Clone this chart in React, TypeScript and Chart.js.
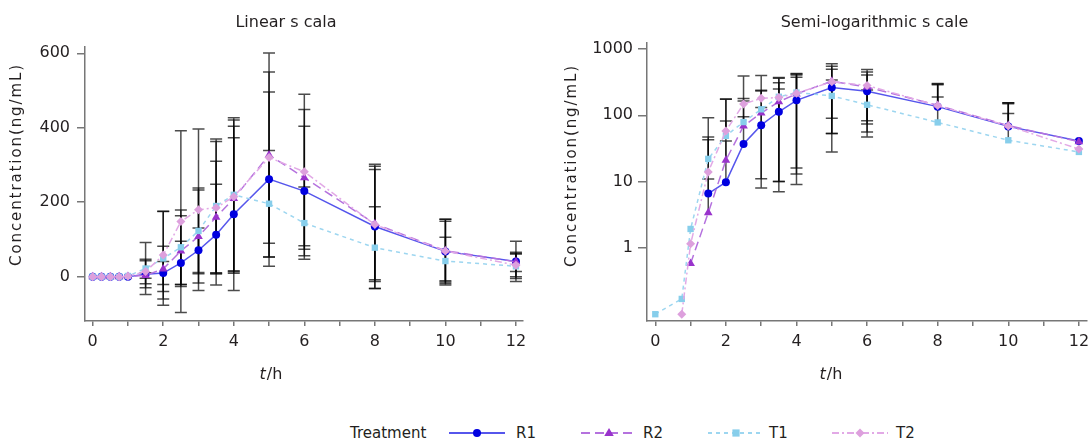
import React, { useEffect, useRef } from 'react';
import { Chart, registerables } from 'chart.js';

Chart.register(...registerables);

// ---------- data ----------
const timePoints = [0, 0.25, 0.5, 0.75, 1, 1.5, 2, 2.5, 3, 3.5, 4, 5, 6, 8, 10, 12];

const r1Mean = [0, 0, 0, 0, 0, 6.6, 9.8, 37, 71, 113, 168, 262, 230, 135, 68, 41];
const r1Sd = [0, 0, 0, 0, 0, 36, 31, 58, 60, 135, 205, 234, 174, 167, 86, 54];

const r2Mean = [0, 0, 0, 0, 0.58, 3.4, 21, 69, 108, 160, 210, 327, 266, 142, 70, 40];
const r2Sd = [0, 0, 0, 0, 0, 7.5, 61, 95, 125, 150, 194, 274, 183, 155, 84, 26];

const t1Mean = [0.1, 0, 0, 0.17, 1.93, 22, 49, 79, 123, 190, 220, 196, 144, 78, 42, 28];
const t1Sd = [0, 0, 0, 0, 0, 70, 126, 100, 115, 180, 207, 143, 97, 110, 64, 33];

const t2Mean = [0, 0, 0, 0.1, 1.15, 14, 58, 148, 180, 185, 215, 320, 282, 140, 69, 31];
const t2Sd = [0, 0, 0, 0, 0, 33, 118, 244, 217, 178, 206, 230, 208, 148, 80, 31];

const seriesNames = ['R1', 'R2', 'T1', 'T2'];
const seriesMeans = [r1Mean, r2Mean, t1Mean, t2Mean];
const seriesSds = [r1Sd, r2Sd, t1Sd, t2Sd];

const xTickValues = [0, 1, 2, 3, 4, 5, 6, 7, 8, 9, 10, 11, 12];
const xTickLabels = ['0', '', '2', '', '4', '', '6', '', '8', '', '10', '', '12'];
const linearYTicks = [0, 200, 400, 600];
const logYTicks = [1, 10, 100, 1000];

const leftTitle = 'Linear s cala';
const rightTitle = 'Semi-logarithmic s cale';
const yAxisTitle = 'Concentration(ng/mL)';
const legendTitle = 'Treatment';

// ---------- styles ----------
const FONT = '"DejaVu Sans", Verdana, sans-serif';
const seriesStyles = [
  { line: '#5656ec', point: '#0000e0', dash: [] as number[], shape: 'circle', radius: 4 },
  { line: '#b572de', point: '#9933cc', dash: [9, 5], shape: 'triangle', radius: 5 },
  { line: '#9dd6f0', point: '#87ceeb', dash: [4, 4], shape: 'rect', radius: 4.5 },
  { line: '#e2a9e6', point: '#dda0dd', dash: [7, 3, 2, 3], shape: 'rectRot', radius: 4.5 },
];

function makeErrorBarPlugin(maxTime: number) {
  return {
    id: 'errorBars',
    beforeDatasetsDraw(chart: any) {
      const { ctx, scales, chartArea } = chart;
      const x = scales.x;
      const y = scales.y;
      const isLog = y.type === 'logarithmic';
      ctx.save();
      ctx.beginPath();
      ctx.rect(chartArea.left, chartArea.top - 20, chartArea.width, chartArea.height + 20);
      ctx.clip();
      ctx.strokeStyle = 'rgba(0,0,0,0.7)';
      ctx.lineWidth = 1.5;
      const cap = 6;
      seriesMeans.forEach((means, si) => {
        const sds = seriesSds[si];
        timePoints.forEach((t, j) => {
          if (t > maxTime) return;
          const m = means[j];
          const s = sds[j];
          if (!s) return;
          const hi = m + s;
          const lo = m - s;
          const px = x.getPixelForValue(t);
          let yTop: number;
          let yBot: number;
          let lowCap = true;
          if (isLog) {
            if (m <= 0) return;
            yTop = y.getPixelForValue(hi);
            if (lo > 0) {
              yBot = y.getPixelForValue(lo);
            } else {
              yBot = y.getPixelForValue(m);
              lowCap = false;
            }
          } else {
            yTop = y.getPixelForValue(hi);
            yBot = y.getPixelForValue(lo);
          }
          ctx.beginPath();
          ctx.moveTo(px, yTop);
          ctx.lineTo(px, yBot);
          ctx.moveTo(px - cap, yTop);
          ctx.lineTo(px + cap, yTop);
          if (lowCap) {
            ctx.moveTo(px - cap, yBot);
            ctx.lineTo(px + cap, yBot);
          }
          ctx.stroke();
        });
      });
      ctx.restore();
    },
  };
}

type TextCfg = {
  title: string;
  titleX: number;
  titleY: number;
  yTitleX: number;
  yTitleY: number;
  xTitleX: number;
  xTitleY: number;
};

function makeTextPlugin(cfg: TextCfg) {
  return {
    id: 'texts',
    afterDraw(chart: any) {
      const ctx = chart.ctx as CanvasRenderingContext2D;
      ctx.save();
      ctx.fillStyle = '#231f20';
      ctx.font = `16px ${FONT}`;
      ctx.textAlign = 'center';
      ctx.textBaseline = 'alphabetic';
      ctx.fillText(cfg.title, cfg.titleX, cfg.titleY);

      ctx.save();
      ctx.translate(cfg.yTitleX, cfg.yTitleY);
      ctx.rotate(-Math.PI / 2);
      ctx.font = `15px ${FONT}`;
      (ctx as any).letterSpacing = '1.9px';
      ctx.textBaseline = 'middle';
      ctx.textAlign = 'center';
      ctx.fillText(yAxisTitle, 0, 0);
      ctx.restore();

      ctx.textAlign = 'left';
      ctx.font = `italic 16px ${FONT}`;
      const wT = ctx.measureText('t').width;
      ctx.font = `16px ${FONT}`;
      const wH = ctx.measureText('/h').width;
      const start = cfg.xTitleX - (wT + wH) / 2;
      ctx.font = `italic 16px ${FONT}`;
      ctx.fillText('t', start, cfg.xTitleY);
      ctx.font = `16px ${FONT}`;
      ctx.fillText('/h', start + wT + 1, cfg.xTitleY);
      ctx.restore();
    },
  };
}

function buildDatasets(isLog: boolean) {
  return seriesNames.map((name, si) => {
    const st = seriesStyles[si];
    return {
      label: name,
      order: seriesNames.length - 1 - si,
      data: timePoints.map((t, j) => {
        const v = seriesMeans[si][j];
        return { x: t, y: isLog && v <= 0 ? null : v };
      }),
      borderColor: st.line,
      backgroundColor: st.point,
      borderWidth: 1.5,
      borderDash: st.dash,
      pointStyle: st.shape,
      pointRadius: st.radius,
      pointBackgroundColor: st.point,
      pointBorderColor: st.point,
      pointBorderWidth: 0,
      spanGaps: true,
      tension: 0,
      clip: false as any,
    };
  });
}

function makeConfig(isLog: boolean): any {
  const axisColor = '#777';
  const tickFont = { family: FONT, size: 16 };
  const xScale = {
    type: 'linear',
    min: isLog ? -0.235 : -0.218,
    max: isLog ? 12.23 : 12.2,
    afterBuildTicks: (s: any) => {
      s.ticks = xTickValues.map((v) => ({ value: v }));
    },
    afterFit: (s: any) => {
      s.height = 74;
      s.paddingLeft = 0;
      s.paddingRight = 0;
    },
    ticks: {
      autoSkip: false,
      maxRotation: 0,
      padding: 6,
      color: '#231f20',
      font: tickFont,
      callback: (v: number) => {
        const i = xTickValues.indexOf(v);
        return i >= 0 ? xTickLabels[i] : '';
      },
    },
    grid: { drawOnChartArea: false, drawTicks: true, tickLength: 5, color: axisColor, lineWidth: 1.5 },
    border: { display: true, color: axisColor, width: 1.5 },
  };
  const yScale = isLog
    ? {
        type: 'logarithmic',
        min: 0.079,
        max: 1230,
        afterBuildTicks: (s: any) => {
          s.ticks = logYTicks.map((v) => ({ value: v }));
        },
        afterFit: (s: any) => {
          s.width = 102;
          s.paddingTop = 0;
          s.paddingBottom = 0;
        },
        ticks: {
          autoSkip: false,
          padding: 5,
          color: '#231f20',
          font: tickFont,
          callback: (v: number) => String(v),
        },
        grid: { drawOnChartArea: false, drawTicks: true, tickLength: 9, color: axisColor, lineWidth: 1.5 },
        border: { display: true, color: axisColor, width: 1.5 },
      }
    : {
        type: 'linear',
        min: -119,
        max: 617,
        afterBuildTicks: (s: any) => {
          s.ticks = linearYTicks.map((v) => ({ value: v }));
        },
        afterFit: (s: any) => {
          s.width = 85;
          s.paddingTop = 0;
          s.paddingBottom = 0;
        },
        ticks: {
          autoSkip: false,
          padding: 7,
          color: '#231f20',
          font: tickFont,
          callback: (v: number) => String(v),
        },
        grid: { drawOnChartArea: false, drawTicks: true, tickLength: 8, color: axisColor, lineWidth: 1.5 },
        border: { display: true, color: axisColor, width: 1.5 },
      };

  const textCfg: TextCfg = isLog
    ? { title: rightTitle, titleX: 329.5, titleY: 27, yTitleX: 27, yTitleY: 165.5, xTitleX: 285.5, xTitleY: 379 }
    : { title: leftTitle, titleX: 286, titleY: 27, yTitleX: 17, yTitleY: 164.5, xTitleX: 270.5, xTitleY: 379 };

  return {
    type: 'line',
    data: { datasets: buildDatasets(isLog) },
    options: {
      responsive: false,
      animation: false,
      devicePixelRatio: 1,
      layout: {
        autoPadding: false,
        padding: isLog ? { top: 43, right: 2, left: 0, bottom: 0 } : { top: 47, right: 22, left: 0, bottom: 0 },
      },
      plugins: {
        legend: { display: false },
        title: { display: false },
        tooltip: { enabled: false },
      },
      scales: { x: xScale, y: yScale },
    },
    plugins: [makeErrorBarPlugin(isLog ? 10 : 12), makeTextPlugin(textCfg)],
  };
}

function ChartCanvas({ isLog, left, width }: { isLog: boolean; left: number; width: number }) {
  const ref = useRef<HTMLCanvasElement | null>(null);
  useEffect(() => {
    if (!ref.current) return;
    const chart = new Chart(ref.current, makeConfig(isLog));
    return () => chart.destroy();
  }, [isLog]);
  return (
    <canvas
      ref={ref}
      width={width}
      height={395}
      style={{ position: 'absolute', left, top: 0, width, height: 395 }}
    />
  );
}

function LegendSymbol({ si, left, width }: { si: number; left: number; width: number }) {
  const st = seriesStyles[si];
  const cx = width / 2;
  const cy = 15;
  const r = st.radius;
  let marker: React.ReactNode = null;
  if (st.shape === 'circle') marker = <circle cx={cx} cy={cy} r={r} fill={st.point} />;
  else if (st.shape === 'triangle')
    marker = (
      <polygon
        points={`${cx},${cy - r} ${cx + r * 0.95},${cy + r * 0.6} ${cx - r * 0.95},${cy + r * 0.6}`}
        fill={st.point}
      />
    );
  else if (st.shape === 'rect')
    marker = <rect x={cx - r * 0.8} y={cy - r * 0.8} width={r * 1.6} height={r * 1.6} fill={st.point} />;
  else
    marker = (
      <polygon points={`${cx},${cy - r} ${cx + r},${cy} ${cx},${cy + r} ${cx - r},${cy}`} fill={st.point} />
    );
  return (
    <svg
      width={width}
      height={30}
      style={{ position: 'absolute', left, top: 0 }}
    >
      <line
        x1={0}
        y1={cy}
        x2={width}
        y2={cy}
        stroke={st.line}
        strokeWidth={2}
        strokeDasharray={st.dash.length ? st.dash.join(' ') : undefined}
      />
      {marker}
    </svg>
  );
}

const legendSymbolLefts = [449, 581, 708, 832];
const legendTextLefts = [516, 643, 769, 896];

export default function App() {
  const textStyle: React.CSSProperties = {
    position: 'absolute',
    top: 0,
    lineHeight: '30px',
    fontFamily: FONT,
    fontSize: 15,
    color: '#231f20',
    whiteSpace: 'nowrap',
  };
  return (
    <div
      style={{
        position: 'fixed',
        left: 0,
        top: 0,
        width: 1089,
        height: 446,
        background: '#fff',
        overflow: 'hidden',
      }}
    >
      <ChartCanvas isLog={false} left={0} width={545} />
      <ChartCanvas isLog={true} left={545} width={544} />
      <div style={{ position: 'absolute', left: 0, top: 418, width: 1089, height: 30 }}>
        <span style={{ ...textStyle, left: 350 }}>{legendTitle}</span>
        {seriesNames.map((name, si) => (
          <React.Fragment key={name}>
            <LegendSymbol si={si} left={legendSymbolLefts[si]} width={56} />
            <span style={{ ...textStyle, left: legendTextLefts[si] }}>{name}</span>
          </React.Fragment>
        ))}
      </div>
    </div>
  );
}
